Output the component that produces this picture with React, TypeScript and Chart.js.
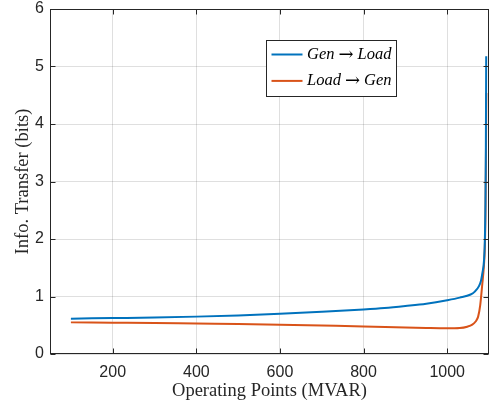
import React, { useEffect, useRef } from 'react';
import { Chart, registerables } from 'chart.js';

Chart.register(...registerables);

// ---- data ----
const genToLoadLabel = 'Gen → Load';
const loadToGenLabel = 'Load → Gen';

const genToLoadX = [100, 200, 300, 400, 500, 600, 700, 800, 850, 900, 950, 1000, 1030, 1056, 1066, 1076, 1081, 1084, 1088, 1090, 1091.5, 1092.5, 1093.3];
const genToLoadY = [0.615, 0.625, 0.635, 0.65, 0.67, 0.70, 0.735, 0.775, 0.80, 0.835, 0.875, 0.935, 0.98, 1.035, 1.085, 1.18, 1.28, 1.4, 1.62, 1.95, 2.6, 3.6, 5.18];

const loadToGenX = [100, 200, 300, 400, 500, 600, 700, 800, 900, 950, 1000, 1030, 1048, 1060, 1068, 1074, 1079, 1084, 1088, 1090, 1091.5, 1092.5, 1093.6];
const loadToGenY = [0.55, 0.545, 0.54, 0.53, 0.522, 0.51, 0.495, 0.48, 0.46, 0.452, 0.447, 0.452, 0.475, 0.51, 0.565, 0.65, 0.85, 1.22, 1.55, 1.85, 2.4, 3.2, 4.54];

const xTicks = [200, 400, 600, 800, 1000];
const yTicks = [0, 1, 2, 3, 4, 5, 6];
const xTitle = 'Operating Points (MVAR)';
const yTitle = 'Info. Transfer (bits)';

const BLUE = '#0072BD';
const ORANGE = '#D95319';
const AXIS = '#262626';
const GRID = 'rgba(38,38,38,0.15)';

const matlabAxesPlugin = {
  id: 'matlabAxes',
  afterDatasetsDraw(chart: any) {
    const { ctx, chartArea: a, scales } = chart;
    ctx.save();
    ctx.strokeStyle = AXIS;
    ctx.lineWidth = 1;
    const L = Math.round(a.left) + 0.5;
    const R = Math.round(a.right) - 0.5;
    const T = Math.round(a.top) + 0.5;
    const B = Math.round(a.bottom) - 0.5;
    ctx.strokeRect(L, T, R - L, B - T);
    const tl = 5;
    ctx.beginPath();
    scales.x.ticks.forEach((t: any) => {
      const px = Math.round(scales.x.getPixelForValue(t.value)) + 0.5;
      ctx.moveTo(px, B); ctx.lineTo(px, B - tl);
      ctx.moveTo(px, T); ctx.lineTo(px, T + tl);
    });
    scales.y.ticks.forEach((t: any) => {
      const py = Math.round(scales.y.getPixelForValue(t.value)) + 0.5;
      ctx.moveTo(L, py); ctx.lineTo(L + tl, py);
      ctx.moveTo(R, py); ctx.lineTo(R - tl, py);
    });
    ctx.stroke();
    ctx.restore();
  },
  afterDraw(chart: any) {
    const { ctx } = chart;
    const bx = 266.5, by = 40.5, bw = 130, bh = 56;
    ctx.save();
    ctx.fillStyle = '#ffffff';
    ctx.fillRect(bx, by, bw, bh);
    ctx.strokeStyle = AXIS;
    ctx.lineWidth = 1;
    ctx.strokeRect(bx, by, bw, bh);
    const italic = 'italic 16.5px "Liberation Serif", "DejaVu Serif", serif';
    const upright = '18px "DejaVu Serif", "Liberation Serif", serif';
    chart.data.datasets.forEach((ds: any, i: number) => {
      const y = 54.5 + i * 26.4;
      ctx.strokeStyle = ds.borderColor;
      ctx.lineWidth = 2;
      ctx.beginPath();
      ctx.moveTo(271.5, y);
      ctx.lineTo(302.5, y);
      ctx.stroke();
      const parts = String(ds.label).split('→').map((s: string) => s.trim());
      ctx.fillStyle = '#000000';
      ctx.textBaseline = 'middle';
      ctx.textAlign = 'left';
      let x = 307;
      ctx.font = italic;
      ctx.fillText(parts[0], x, y);
      x += ctx.measureText(parts[0]).width + 4;
      ctx.font = upright;
      ctx.fillText('→', x, y + 0.5);
      x += ctx.measureText('→').width + 4;
      ctx.font = italic;
      ctx.fillText(parts[1], x, y);
    });
    ctx.restore();
  },
};

export default function App() {
  const ref = useRef<HTMLCanvasElement | null>(null);

  useEffect(() => {
    if (!ref.current) return;
    const chart = new Chart(ref.current, {
      type: 'line',
      data: {
        datasets: [
          {
            label: genToLoadLabel,
            data: genToLoadX.map((x, i) => ({ x, y: genToLoadY[i] })),
            borderColor: BLUE,
            borderWidth: 2,
            pointRadius: 0,
            fill: false,
            cubicInterpolationMode: 'monotone',
          },
          {
            label: loadToGenLabel,
            data: loadToGenX.map((x, i) => ({ x, y: loadToGenY[i] })),
            borderColor: ORANGE,
            borderWidth: 2,
            pointRadius: 0,
            fill: false,
            cubicInterpolationMode: 'monotone',
          },
        ],
      },
      options: {
        animation: false,
        responsive: false,
        maintainAspectRatio: false,
        layout: { padding: { top: 9, right: 1, left: 0, bottom: 0 } },
        plugins: { legend: { display: false }, tooltip: { enabled: false } },
        scales: {
          x: {
            type: 'linear',
            min: 50,
            max: 1100,
            afterBuildTicks: (s: any) => { s.ticks = xTicks.map((v) => ({ value: v })); },
            afterFit: (s: any) => { s.height = 53; s.paddingLeft = 0; s.paddingRight = 0; },
            grid: { color: GRID, drawTicks: false },
            border: { display: false },
            ticks: {
              color: AXIS,
              padding: 9,
              maxRotation: 0,
              autoSkip: false,
              callback: (v: any) => String(v),
              font: { family: '"Liberation Sans", Arial, sans-serif', size: 16 },
            },
            title: {
              display: true,
              text: xTitle,
              color: AXIS,
              font: { family: '"Liberation Serif", serif', size: 18.5 },
              padding: { top: 0, bottom: 5 },
            },
          },
          y: {
            type: 'linear',
            min: 0,
            max: 6,
            afterBuildTicks: (s: any) => { s.ticks = yTicks.map((v) => ({ value: v })); },
            afterFit: (s: any) => { s.width = 50; s.paddingTop = 0; s.paddingBottom = 0; },
            grid: { color: GRID, drawTicks: false },
            border: { display: false },
            ticks: {
              color: AXIS,
              padding: 6,
              autoSkip: false,
              callback: (v: any) => String(v),
              font: { family: '"Liberation Sans", Arial, sans-serif', size: 16 },
            },
            title: {
              display: true,
              text: yTitle,
              color: AXIS,
              font: { family: '"Liberation Serif", serif', size: 18.5 },
              padding: { top: 12, bottom: 0 },
            },
          },
        },
      },
      plugins: [matlabAxesPlugin],
    } as any);
    return () => chart.destroy();
  }, []);

  return (
    <div style={{ position: 'absolute', left: 0, top: 0, width: 490, height: 407, background: '#fff' }}>
      <canvas ref={ref} width={490} height={407} style={{ display: 'block' }} />
    </div>
  );
}
